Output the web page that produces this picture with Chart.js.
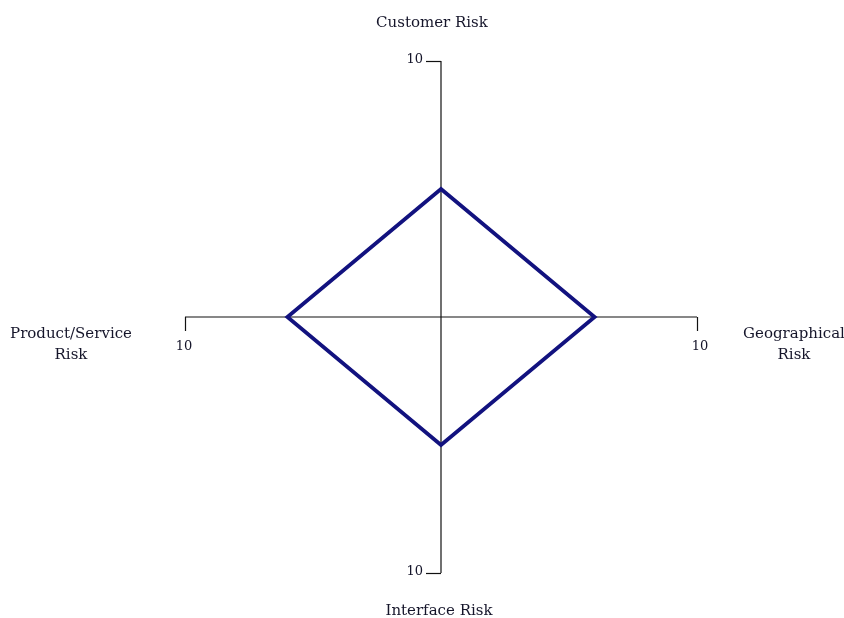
<!DOCTYPE html>
<html>
<head>
<meta charset="utf-8">
<script src="https://cdn.jsdelivr.net/npm/chart.js@4.4.0/dist/chart.umd.min.js"></script>
<style>
  html, body { margin: 0; padding: 0; background: #fff; }
  #wrap { width: 844px; height: 618px; }
</style>
</head>
<body>
<div id="wrap"><canvas id="riskChart" width="844" height="618"></canvas></div>
<script>
// categories, clockwise from the top
const categories = [["Customer Risk"], ["Geographical", "Risk"], ["Interface Risk"], ["Product/Service", "Risk"]];
const riskValues = [5, 6, 5, 6];
const axisMax = 10;
const axisMaxLabel = "10";

const labelFont = '15px "DejaVu Serif", "Liberation Serif", serif';
const tickFont = '13px "DejaVu Serif", "Liberation Serif", serif';
const textColor = "#15152a";

// draws the end tick + "10" on each spoke and the category names
const spokeDecor = {
    id: "spokeDecor",
    afterDraw(chart) {
        const scale = chart.scales.r;
        const ctx = chart.ctx;
        ctx.save();
        ctx.strokeStyle = "#111";
        ctx.lineWidth = 1.2;
        ctx.fillStyle = textColor;
        for (let i = 0; i < categories.length; i++) {
            const p = scale.getPointPositionForValue(i, axisMax);
            const vertical = Math.abs(p.x - scale.xCenter) < 1;
            ctx.beginPath();
            ctx.font = tickFont;
            if (vertical) {      // tick goes left, label left of it
                ctx.moveTo(p.x, p.y + 0.5);
                ctx.lineTo(p.x - 15, p.y + 0.5);
                ctx.stroke();
                ctx.textAlign = "right";
                ctx.textBaseline = "middle";
                ctx.fillText(axisMaxLabel, p.x - 18, p.y - 1);
            } else {             // tick goes down, label under it
                ctx.moveTo(p.x + 0.5, p.y);
                ctx.lineTo(p.x + 0.5, p.y + 14);
                ctx.stroke();
                ctx.textAlign = "center";
                ctx.textBaseline = "middle";
                ctx.fillText(axisMaxLabel, p.x + (p.x > scale.xCenter ? 3 : -1), p.y + 30);
            }

            // category label
            ctx.font = labelFont;
            ctx.textAlign = "center";
            ctx.textBaseline = "middle";
            let lx, ly;
            if (vertical && p.y < scale.yCenter) { lx = p.x - 9; ly = p.y - 38; }
            else if (vertical) { lx = p.x - 2; ly = p.y + 38; }
            else if (p.x > scale.xCenter) { lx = p.x + 97; ly = p.y + 17; }
            else { lx = p.x - 114; ly = p.y + 17; }
            const lines = categories[i];
            for (let j = 0; j < lines.length; j++) {
                ctx.fillText(lines[j], lx, ly + j * 21);
            }
        }
        ctx.restore();
    }
};

const ctx = document.getElementById("riskChart").getContext("2d");
window.riskChart = new Chart(ctx, {
    type: "radar",
    data: {
        labels: categories,
        datasets: [{
            label: "Risk",
            data: riskValues,
            borderColor: "#12127f",
            borderWidth: 3.8,
            backgroundColor: "rgba(0,0,0,0)",
            fill: false,
            pointRadius: 0,
            pointHoverRadius: 0,
            tension: 0
        }]
    },
    options: {
        responsive: false,
        animation: false,
        layout: { padding: { top: 61, bottom: 45, left: 38, right: 0 } },
        plugins: {
            legend: { display: false },
            tooltip: { enabled: false }
        },
        scales: {
            r: {
                min: 0,
                max: axisMax,
                beginAtZero: true,
                grid: { display: false },
                angleLines: { display: true, color: "#111", lineWidth: 1.2 },
                ticks: { display: false },
                pointLabels: { display: false }
            }
        }
    },
    plugins: [spokeDecor]
});
</script>
</body>
</html>
